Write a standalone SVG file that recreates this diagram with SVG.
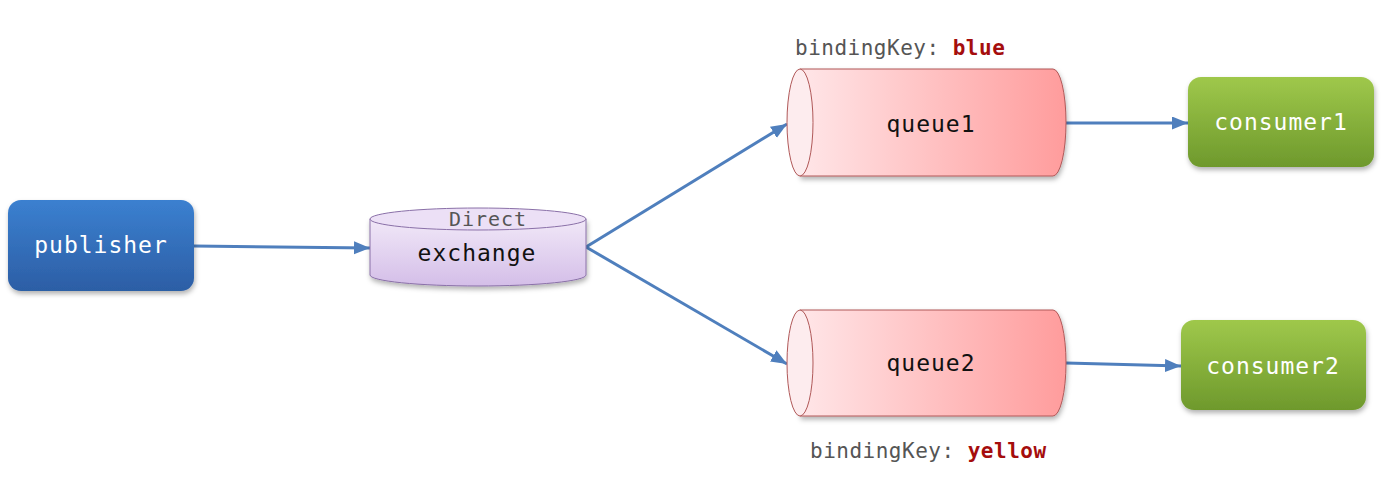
<svg xmlns="http://www.w3.org/2000/svg" width="1395" height="479" viewBox="0 0 1395 479">
<style>
.t{font-family:"DejaVu Sans Mono","Liberation Mono",monospace;font-size:23px;letter-spacing:1px;text-anchor:middle;dominant-baseline:central}
.w{fill:#ffffff}
.k{fill:#111111}
.g{fill:#555555}
.r{fill:#a50d0d;font-weight:bold}
.lbl{font-family:"DejaVu Sans Mono","Liberation Mono",monospace;font-size:21px;letter-spacing:0.5px;fill:#555555}
.conn{stroke:#4f7fbd;stroke-width:3;fill:none}
</style>
<defs>
<linearGradient id="gb" x1="0" y1="0" x2="0" y2="1"><stop offset="0" stop-color="#3b80d0"/><stop offset="1" stop-color="#2c5ea5"/></linearGradient>
<linearGradient id="gg" x1="0" y1="0" x2="0" y2="1"><stop offset="0" stop-color="#9fc84b"/><stop offset="1" stop-color="#6e992c"/></linearGradient>
<linearGradient id="gp" x1="0" y1="0" x2="0" y2="1"><stop offset="0" stop-color="#f1e8f8"/><stop offset="1" stop-color="#d4bee8"/></linearGradient>
<linearGradient id="gr" x1="0" y1="0" x2="1" y2="0"><stop offset="0" stop-color="#ffe6e8"/><stop offset="1" stop-color="#ff9c9c"/></linearGradient>
<filter id="sh" x="-10%" y="-10%" width="125%" height="130%"><feDropShadow dx="1" dy="3" stdDeviation="2.5" flood-color="#000" flood-opacity="0.3"/></filter>
<marker id="ah" markerUnits="userSpaceOnUse" markerWidth="17" markerHeight="14" refX="16" refY="6.5" orient="auto"><path d="M0,0 L16,6.5 L0,13 Z" fill="#4f7fbd"/></marker>
</defs>
<g id="connectors">
<line class="conn" x1="194" y1="246" x2="370" y2="248" marker-end="url(#ah)"/>
<line class="conn" x1="586" y1="247" x2="787" y2="124" marker-end="url(#ah)"/>
<line class="conn" x1="586" y1="247" x2="787" y2="364" marker-end="url(#ah)"/>
<line class="conn" x1="1066" y1="123" x2="1188" y2="123" marker-end="url(#ah)"/>
<line class="conn" x1="1066" y1="363" x2="1181" y2="366" marker-end="url(#ah)"/>
</g>
<g id="publisher">
<rect x="8" y="200" width="186" height="91" rx="13" fill="url(#gb)" filter="url(#sh)"/>
<text class="t w" x="101" y="245">publisher</text>
</g>
<g id="exchange">
<path d="M370,219 L370,275 A108,11 0 0 0 586,275 L586,219 Z" fill="url(#gp)" stroke="#8a70a8" stroke-width="1" filter="url(#sh)"/>
<ellipse cx="478" cy="219" rx="108" ry="11" fill="#ece0f6" stroke="#8a70a8" stroke-width="1"/>
<text class="t g" x="488" y="219" style="font-size:20px">Direct</text>
<text class="t k" x="477" y="253">exchange</text>
</g>
<g id="queue1">
<path d="M800,69 L1053,69 A13,53.5 0 0 1 1053,176 L800,176 Z" fill="url(#gr)" stroke="#b05858" stroke-width="1" filter="url(#sh)"/>
<ellipse cx="800" cy="122.5" rx="13" ry="53.5" fill="#fdecee" stroke="#b05858" stroke-width="1"/>
<text class="t k" x="931" y="124">queue1</text>
<text class="lbl" x="795" y="55">bindingKey: <tspan class="r" fill="#a50d0d" font-weight="bold">blue</tspan></text>
</g>
<g id="queue2">
<path d="M800,310 L1053,310 A13,53 0 0 1 1053,416 L800,416 Z" fill="url(#gr)" stroke="#b05858" stroke-width="1" filter="url(#sh)"/>
<ellipse cx="800" cy="363" rx="13" ry="53" fill="#fdecee" stroke="#b05858" stroke-width="1"/>
<text class="t k" x="931" y="363">queue2</text>
<text class="lbl" x="810" y="458">bindingKey: <tspan class="r" fill="#a50d0d" font-weight="bold">yellow</tspan></text>
</g>
<g id="consumer1">
<rect x="1188" y="77" width="186" height="90" rx="13" fill="url(#gg)" filter="url(#sh)"/>
<text class="t w" x="1281" y="122">consumer1</text>
</g>
<g id="consumer2">
<rect x="1181" y="320" width="185" height="90" rx="13" fill="url(#gg)" filter="url(#sh)"/>
<text class="t w" x="1273" y="366">consumer2</text>
</g>
</svg>
